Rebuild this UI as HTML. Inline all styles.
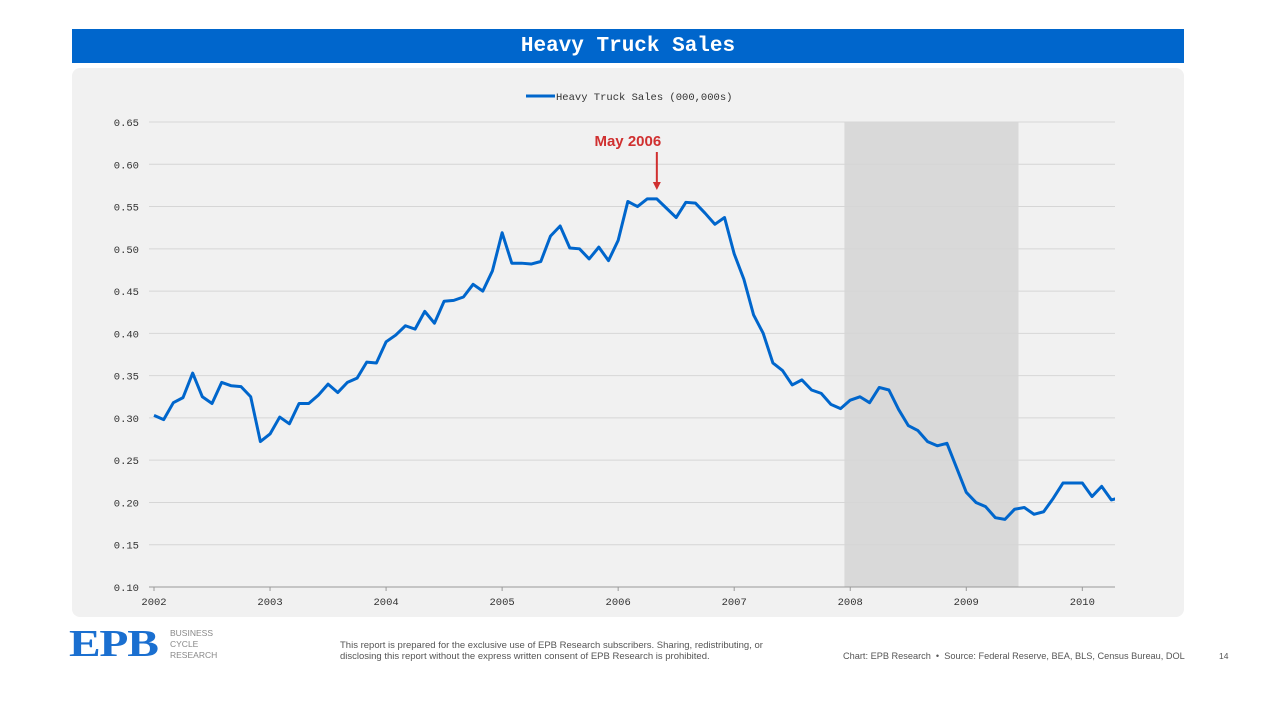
<!DOCTYPE html>
<html><head><meta charset="utf-8"><style>
body{margin:0;width:1261px;height:702px;background:#fff;position:relative;font-family:"Liberation Sans",sans-serif;overflow:hidden}
.title{position:absolute;left:72px;top:29px;width:1112px;height:34px;background:#0066CC;color:#fff;text-align:center;font:bold 21px/35px "Liberation Mono",monospace}
.panel{position:absolute;left:72px;top:68px;width:1112px;height:549px;background:#f1f1f1;border-radius:8px}
svg{position:absolute;left:0;top:0}
.ft{position:absolute;font-size:9.5px;color:#555}
</style></head><body>
<div class="title">Heavy Truck Sales</div>
<div class="panel"></div>
<svg id="chart" width="1261" height="702"><defs><clipPath id="pc"><rect x="140" y="100" width="975" height="500"/></clipPath></defs></svg>
<div style="position:absolute;left:69px;top:626px;font:bold 38px/36px 'Liberation Serif',serif;color:#1a6fd0;letter-spacing:-1px;transform:scaleX(1.25);transform-origin:left">EPB</div>
<div class="ft" style="left:170px;top:628px;font-size:8.5px;line-height:11px;color:#888">BUSINESS<br>CYCLE<br>RESEARCH</div>
<div class="ft" style="left:340px;top:640px;line-height:11px">This report is prepared for the exclusive use of EPB Research subscribers. Sharing, redistributing, or<br>disclosing this report without the express written consent of EPB Research is prohibited.</div>
<div class="ft" style="left:843px;top:651px;font-size:9.2px">Chart: EPB Research &nbsp;•&nbsp; Source: Federal Reserve, BEA, BLS, Census Bureau, DOL</div>
<div class="ft" style="left:1219px;top:651px;font-size:8.5px">14</div>
<script>
const values=[0.303,0.298,0.318,0.324,0.353,0.325,0.317,0.342,0.338,0.337,0.325,0.272,
0.281,0.301,0.293,0.317,0.317,0.327,0.340,0.330,0.342,0.347,0.366,0.365,
0.390,0.398,0.409,0.405,0.426,0.412,0.438,0.439,0.443,0.458,0.450,0.474,
0.519,0.483,0.483,0.482,0.485,0.515,0.527,0.501,0.500,0.488,0.502,0.486,
0.510,0.556,0.550,0.559,0.559,0.548,0.537,0.555,0.554,0.542,0.529,0.537,
0.494,0.464,0.422,0.400,0.365,0.356,0.339,0.345,0.333,0.329,0.316,0.311,
0.321,0.325,0.318,0.336,0.333,0.310,0.291,0.285,0.272,0.267,0.270,0.241,
0.212,0.200,0.195,0.182,0.180,0.192,0.194,0.186,0.189,0.205,0.223,0.223,
0.223,0.207,0.219,0.203,0.206];
const yTicks=[0.10,0.15,0.20,0.25,0.30,0.35,0.40,0.45,0.50,0.55,0.60,0.65];
const xYears=[2002,2003,2004,2005,2006,2007,2008,2009,2010];
const recession=[71.4,89.4];
const annotIdx=52;
const NS='http://www.w3.org/2000/svg';
const svg=document.getElementById('chart');
const X0=149,X1=1115,Y0=587,Y1=122,first=154,step=9.67;
const x=i=>first+i*step;
const y=v=>Y0-(v-0.10)/(0.55)*(Y0-Y1);
function mk(t,a){const e=document.createElementNS(NS,t);for(const k in a)e.setAttribute(k,a[k]);svg.appendChild(e);return e;}
let r=mk('rect',{x:x(recession[0]),y:Y1,width:x(recession[1])-x(recession[0]),height:Y0-Y1,fill:'#d9d9d9'});


yTicks.forEach(t=>{
 const g=mk('line',{x1:X0,x2:X1,y1:y(t),y2:y(t),stroke:'#d6d6d6','stroke-width':1});
 
 
 const l=mk('text',{x:139,y:y(t)+4,'text-anchor':'end','font-size':10.5,'font-family':'Liberation Mono,monospace',fill:'#333'});
 l.textContent=t.toFixed(2);
 
 
});
let ax=mk('line',{x1:X0,x2:X1,y1:Y0,y2:Y0,stroke:'#999','stroke-width':1});


xYears.forEach((yr,k)=>{
 const xx=x(k*12);
 const tk=mk('line',{x1:xx,x2:xx,y1:Y0,y2:Y0+4,stroke:'#999'});
 
 
 const l=mk('text',{x:xx,y:Y0+18,'text-anchor':'middle','font-size':10.5,'font-family':'Liberation Mono,monospace',fill:'#333'});
 l.textContent=yr;
 
 
});
const p=mk('polyline',{points:values.map((v,i)=>x(i)+','+y(v)).join(' '),fill:'none',stroke:'#0066CC','stroke-width':3,'stroke-linejoin':'round','clip-path':'url(#pc)'});


const lg=mk('line',{x1:526,x2:555,y1:96,y2:96,stroke:'#0066CC','stroke-width':3});


const lt=mk('text',{x:556,y:100,'font-size':10.5,'font-family':'Liberation Mono,monospace',fill:'#333'});
lt.textContent='Heavy Truck Sales (000,000s)';


const ax2=x(annotIdx);
const al=mk('line',{x1:ax2,x2:ax2,y1:152,y2:184,stroke:'#d03030','stroke-width':2});


const ah=mk('polygon',{points:`${ax2-4},182 ${ax2+4},182 ${ax2},190`,fill:'#d03030'});


const at=mk('text',{x:ax2-29,y:146,'text-anchor':'middle','font-size':15,'font-weight':'bold',fill:'#d03030'});
at.textContent='May 2006';


</script>
</body></html>
